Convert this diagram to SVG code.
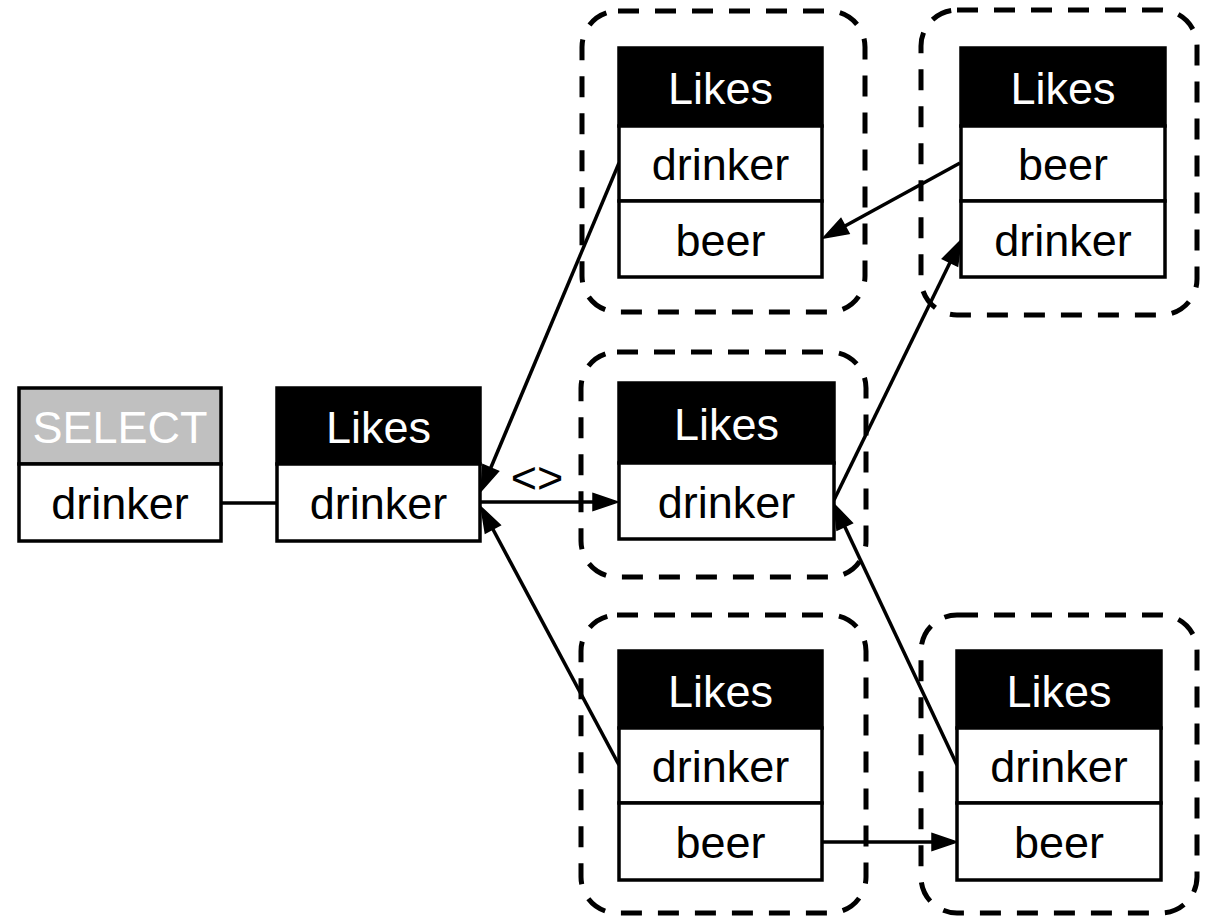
<svg xmlns="http://www.w3.org/2000/svg" width="1210" height="919" viewBox="0 0 1210 919">
<style>
text { font-family: "Liberation Sans", Arial, sans-serif; font-size: 45px; text-anchor: middle; }
.hdr { fill: #000; stroke: #000; stroke-width: 3.5; }
.sel { fill: #c0c0c0; stroke: #000; stroke-width: 3.5; }
.cell { fill: #fff; stroke: #000; stroke-width: 3.5; }
.ht { fill: #fff; }
.ct { fill: #000; }
.cluster { fill: none; stroke: #000; stroke-width: 5; stroke-dasharray: 21 16; }
.edge { fill: none; stroke: #000; stroke-width: 3.5; }
</style>
<defs>
<marker id="arr" markerUnits="userSpaceOnUse" markerWidth="28" markerHeight="20" refX="0" refY="8.5" orient="auto" viewBox="0 0 28 17" overflow="visible">
<path d="M0,0 L25,8.5 L0,17 z" fill="#000" stroke="#000" stroke-width="1.5"/>
</marker>
</defs>

<g id="clusters">
<rect id="cluster_tm" class="cluster" x="582" y="11" width="283" height="301" rx="36"/>
<rect id="cluster_tr" class="cluster" x="921" y="10" width="276" height="305" rx="36"/>
<rect id="cluster_m" class="cluster" x="581" y="352" width="285" height="225" rx="36"/>
<rect id="cluster_bm" class="cluster" x="581" y="615" width="285" height="298" rx="36"/>
<rect id="cluster_br" class="cluster" x="921" y="615" width="276" height="298" rx="36"/>
</g>

<g id="connectors">
<line class="edge" x1="221" y1="503" x2="277" y2="503"/>
<line class="edge" x1="619" y1="163" x2="490.7" y2="468" marker-end="url(#arr)"/>
<line class="edge" x1="480" y1="502" x2="593" y2="502" marker-end="url(#arr)"/>
<text x="537" y="493" class="ct">&lt;&gt;</text>
<line class="edge" x1="619" y1="765" x2="492.8" y2="529" marker-end="url(#arr)"/>
<line class="edge" x1="960" y1="163" x2="845" y2="226" marker-end="url(#arr)"/>
<line class="edge" x1="834" y1="500" x2="950" y2="262.5" marker-end="url(#arr)"/>
<line class="edge" x1="957" y1="765" x2="844.7" y2="526.6" marker-end="url(#arr)"/>
<line class="edge" x1="822" y1="842" x2="932" y2="842" marker-end="url(#arr)"/>
</g>

<g id="node_select">
<rect class="sel" x="19" y="388" width="202" height="76"/>
<rect class="cell" x="19" y="464" width="202" height="77"/>
<text x="120" y="443" class="ht">SELECT</text>
<text x="120" y="519" class="ct">drinker</text>
</g>

<g id="node_likes_main">
<rect class="hdr" x="277" y="388" width="203" height="76"/>
<rect class="cell" x="277" y="464" width="203" height="77"/>
<text x="378.5" y="443" class="ht">Likes</text>
<text x="378.5" y="519" class="ct">drinker</text>
</g>

<g id="node_likes_tm">
<rect class="hdr" x="619" y="48" width="203" height="78"/>
<rect class="cell" x="619" y="126" width="203" height="75"/>
<rect class="cell" x="619" y="201" width="203" height="76"/>
<text x="720.5" y="104" class="ht">Likes</text>
<text x="720.5" y="180" class="ct">drinker</text>
<text x="720.5" y="256" class="ct">beer</text>
</g>

<g id="node_likes_tr">
<rect class="hdr" x="961" y="48" width="204" height="78"/>
<rect class="cell" x="961" y="126" width="204" height="75"/>
<rect class="cell" x="961" y="201" width="204" height="76"/>
<text x="1063" y="104" class="ht">Likes</text>
<text x="1063" y="180" class="ct">beer</text>
<text x="1063" y="256" class="ct">drinker</text>
</g>

<g id="node_likes_m">
<rect class="hdr" x="619" y="383" width="215" height="80"/>
<rect class="cell" x="619" y="463" width="215" height="76"/>
<text x="726.5" y="440" class="ht">Likes</text>
<text x="726.5" y="518" class="ct">drinker</text>
</g>

<g id="node_likes_bm">
<rect class="hdr" x="619" y="651" width="203" height="77"/>
<rect class="cell" x="619" y="728" width="203" height="75"/>
<rect class="cell" x="619" y="803" width="203" height="77"/>
<text x="720.5" y="707" class="ht">Likes</text>
<text x="720.5" y="782" class="ct">drinker</text>
<text x="720.5" y="858" class="ct">beer</text>
</g>

<g id="node_likes_br">
<rect class="hdr" x="957" y="651" width="204" height="77"/>
<rect class="cell" x="957" y="728" width="204" height="75"/>
<rect class="cell" x="957" y="803" width="204" height="77"/>
<text x="1059" y="707" class="ht">Likes</text>
<text x="1059" y="782" class="ct">drinker</text>
<text x="1059" y="858" class="ct">beer</text>
</g>
</svg>
